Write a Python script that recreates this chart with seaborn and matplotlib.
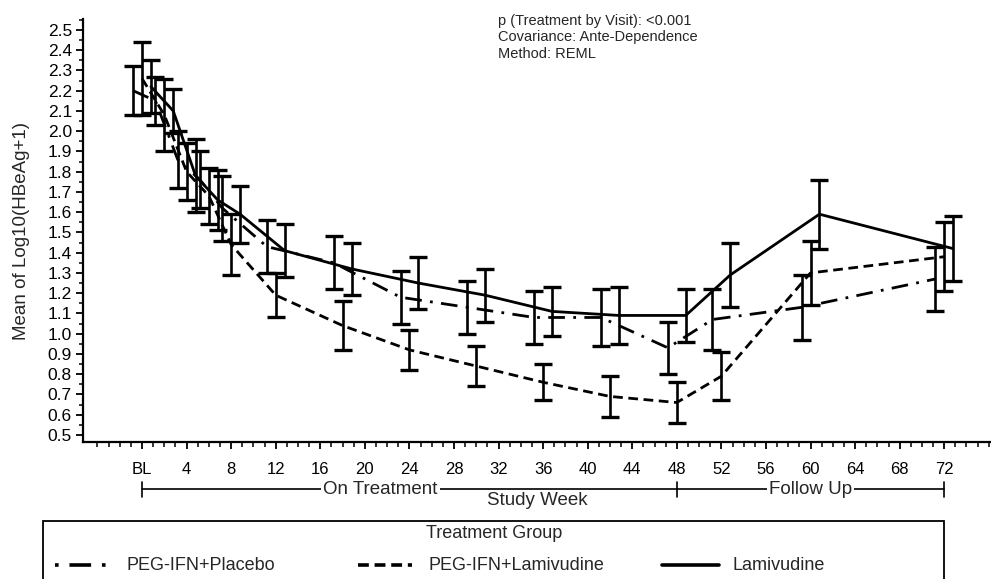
import numpy as np
import pandas as pd
import seaborn as sns
import matplotlib.pyplot as plt
from matplotlib.lines import Line2D
from matplotlib.patches import Rectangle
from matplotlib.ticker import MultipleLocator, FixedLocator
import matplotlib.transforms as mtransforms

# visit weeks (0 = baseline)
weeks = [0, 2, 4, 6, 8, 12, 18, 24, 30, 36, 42, 48, 52, 60, 72]
groups = ['PEG-IFN+Placebo', 'PEG-IFN+Lamivudine', 'Lamivudine']

placebo_mean = [2.20, 2.15, 1.86, 1.76, 1.62, 1.43, 1.35, 1.18, 1.13, 1.08, 1.08, 0.93, 1.07, 1.13, 1.27]
placebo_se = [0.12, 0.12, 0.14, 0.14, 0.16, 0.13, 0.13, 0.13, 0.13, 0.13, 0.14, 0.13, 0.15, 0.16, 0.16]

combo_mean = [2.26, 2.08, 1.80, 1.68, 1.44, 1.19, 1.04, 0.92, 0.84, 0.76, 0.69, 0.66, 0.79, 1.30, 1.38]
combo_se = [0.18, 0.18, 0.14, 0.14, 0.15, 0.11, 0.12, 0.10, 0.10, 0.09, 0.10, 0.10, 0.12, 0.16, 0.17]

lam_mean = [2.22, 2.10, 1.78, 1.66, 1.59, 1.41, 1.32, 1.25, 1.19, 1.11, 1.09, 1.09, 1.29, 1.59, 1.42]
lam_se = [0.13, 0.11, 0.18, 0.15, 0.14, 0.13, 0.13, 0.13, 0.13, 0.12, 0.14, 0.13, 0.16, 0.17, 0.16]

xtick_labels = ['BL'] + [str(w) for w in range(4, 73, 4)]

# build long table, groups are dodged a little along x
offsets = {'PEG-IFN+Placebo': -0.8, 'PEG-IFN+Lamivudine': 0.0, 'Lamivudine': 0.8}
means = {'PEG-IFN+Placebo': placebo_mean, 'PEG-IFN+Lamivudine': combo_mean, 'Lamivudine': lam_mean}
ses = {'PEG-IFN+Placebo': placebo_se, 'PEG-IFN+Lamivudine': combo_se, 'Lamivudine': lam_se}
rows = []
for g in groups:
    for w, m, s in zip(weeks, means[g], ses[g]):
        rows.append({'week': w, 'xpos': w + offsets[g], 'mean': m, 'se': s, 'group': g})
df = pd.DataFrame(rows)

sns.set_theme(style='ticks')
plt.rcParams['font.family'] = ['Liberation Sans', 'DejaVu Sans']

W, H = 991, 579
fig = plt.figure(figsize=(W / 100, H / 100), dpi=100)
ax = fig.add_axes([83 / W, 1 - 442 / H, 908 / W, 423 / H])

def fx(px):
    return px / W

def fy(py):
    return 1 - py / H

dash_styles = {'PEG-IFN+Placebo': (6, 3, 1, 3), 'PEG-IFN+Lamivudine': (3.5, 2), 'Lamivudine': ''}
sns.lineplot(data=df, x='xpos', y='mean', hue='group', style='group',
             palette={g: 'black' for g in groups}, dashes=dash_styles,
             linewidth=2.0, legend=False, errorbar=None, estimator=None, ax=ax)

for g in groups:
    sub = df[df['group'] == g]
    ax.errorbar(sub['xpos'], sub['mean'], yerr=sub['se'], fmt='none', ecolor='black',
                elinewidth=1.9, capsize=6.5, capthick=2.4)

ax.set_xlim(-5.3, 76.2)
ax.set_ylim(0.465, 2.554)
ax.xaxis.set_major_locator(FixedLocator(list(range(0, 73, 4))))
ax.set_xticklabels(xtick_labels)
ax.xaxis.set_minor_locator(FixedLocator(list(range(-4, 77))))
ax.yaxis.set_major_locator(MultipleLocator(0.1))
ax.yaxis.set_minor_locator(MultipleLocator(0.05))
ax.yaxis.set_major_formatter(plt.FuncFormatter(lambda v, p: f'{v:.1f}'))

ax.tick_params(axis='x', which='major', length=5, width=1.3, pad=9.5, labelsize=12, colors='black')
ax.tick_params(axis='x', which='minor', length=3.5, width=1.3)
ax.tick_params(axis='y', which='major', length=5, width=1.3, pad=3, labelsize=12.5, colors='black')
ax.tick_params(axis='y', which='minor', length=3, width=1.3)

sns.despine(ax=ax)
for sp in ['left', 'bottom']:
    ax.spines[sp].set_linewidth(1.6)
    ax.spines[sp].set_color('black')

ax.set_xlabel('Study Week', fontsize=13.5)
ax.xaxis.set_label_coords(0.5, -0.118)
ax.set_ylabel('Mean of Log10(HBeAg+1)', fontsize=13.5)
ax.yaxis.set_label_coords(-0.058, 0.5)

# treatment period brackets under the axis
trans = mtransforms.blended_transform_factory(ax.transData, fig.transFigure)
yb = fy(489)
for x0, x1 in [(0, 48), (48, 72)]:
    ax.add_line(Line2D([x0, x1], [yb, yb], transform=trans, color='black', lw=1.2, clip_on=False))
for xe in [0, 48, 72]:
    ax.add_line(Line2D([xe, xe], [fy(482), fy(497)], transform=trans, color='black', lw=1.2, clip_on=False))
ax.text(21.4, fy(490), 'On Treatment', transform=trans, ha='center', va='center', fontsize=13.5,
        bbox=dict(facecolor='white', edgecolor='none', pad=1.5), zorder=5, clip_on=False)
ax.text(60, fy(490), 'Follow Up', transform=trans, ha='center', va='center', fontsize=13.5,
        bbox=dict(facecolor='white', edgecolor='none', pad=1.5), zorder=5, clip_on=False)

# model notes
notes = ['p (Treatment by Visit): <0.001', 'Covariance: Ante-Dependence', 'Method: REML']
for i, t in enumerate(notes):
    fig.text(fx(498), fy(21 + i * 16.3), t, fontsize=10.5, ha='left', va='center')

# legend box at the bottom
fig.add_artist(Rectangle((fx(43), fy(600)), fx(944) - fx(43), fy(521) - fy(600),
                         transform=fig.transFigure, facecolor='none', edgecolor='black', lw=1.3, clip_on=False))
fig.text(fx(494), fy(534), 'Treatment Group', fontsize=13, ha='center', va='center')
handle_pos = [(55, 113, 126), (358, 412, 428), (662, 719, 733)]
legend_dashes = {'PEG-IFN+Placebo': (9, (6, 3, 1, 3)), 'PEG-IFN+Lamivudine': (0, (3, 1.6)), 'Lamivudine': '-'}
for g, (h0, h1, tx) in zip(groups, handle_pos):
    fig.add_artist(Line2D([fx(h0), fx(h1)], [fy(565), fy(565)], transform=fig.transFigure,
                          color='black', lw=2.6, linestyle=legend_dashes[g]))
    fig.text(fx(tx), fy(565), g, fontsize=13, ha='left', va='center')

fig.savefig('out.png', dpi=100)
